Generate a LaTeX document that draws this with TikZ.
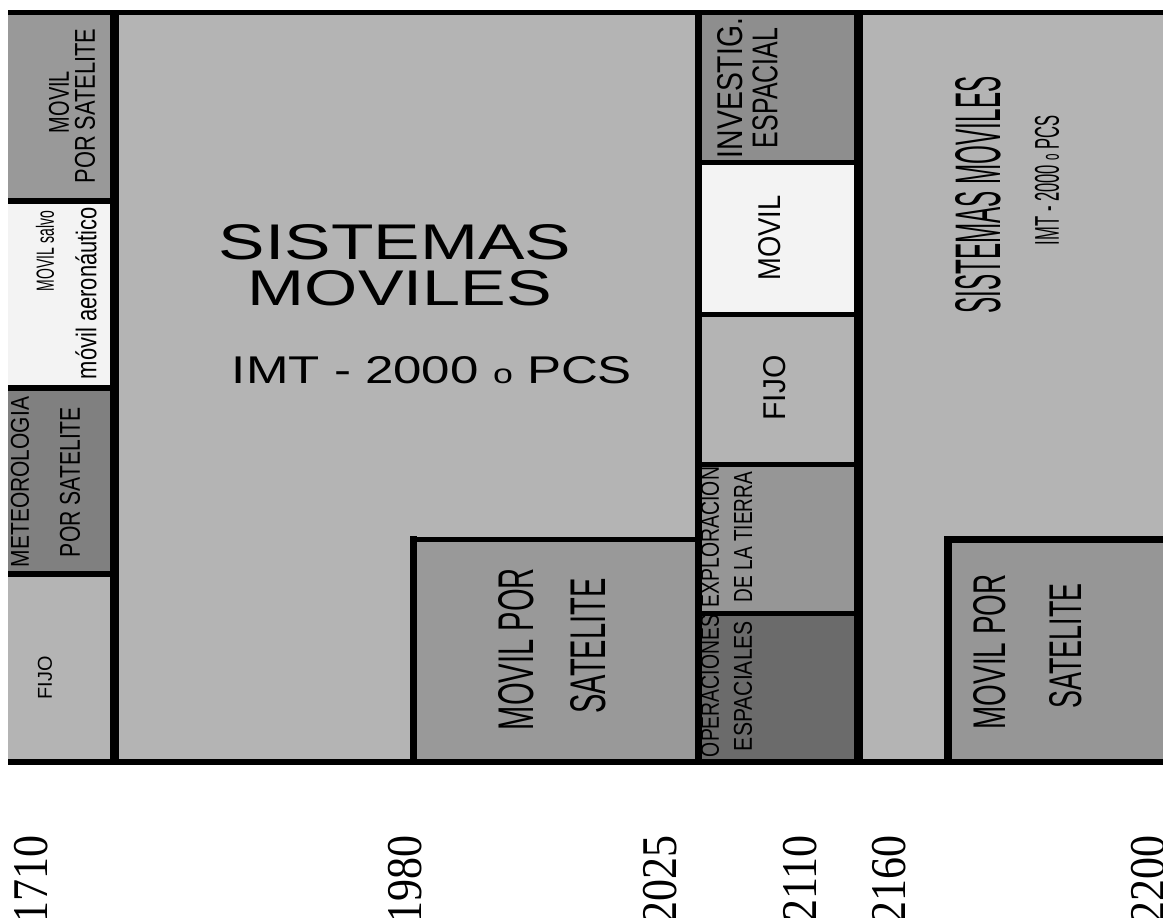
\documentclass[tikz,border=0pt]{standalone}
\usepackage{fontspec}
\setmainfont{Liberation Sans}
\newfontfamily\yearfont{Liberation Serif}
\definecolor{lg}{HTML}{B4B4B4}
\definecolor{mg}{HTML}{999999}
\definecolor{dg}{HTML}{808080}
\definecolor{wh}{HTML}{F3F3F3}
\definecolor{ig}{HTML}{8E8E8E}
\definecolor{eg}{HTML}{969696}
\definecolor{og}{HTML}{6B6B6B}
\newcommand\fitt[3]{\resizebox{#1pt}{#2pt}{#3}}
\newcommand\yeartext[1]{\scalebox{0.88}[1]{#1}}
\begin{document}
\begin{tikzpicture}[x=1pt,y=-1pt,
  vlbl/.style={inner sep=0pt, outer sep=0pt, rotate=90, anchor=center},
  hlbl/.style={inner sep=0pt, outer sep=0pt, anchor=center},
  yr/.style={inner sep=0pt, outer sep=0pt, rotate=90, anchor=east, font=\yearfont\fontsize{50}{50}\selectfont},
  thick line/.style={line width=9pt},
  mid line/.style={line width=6pt},
  thin line/.style={line width=5pt}]
\useasboundingbox (0,0) rectangle (1163,918);
\clip (0,0) rectangle (1163,918);
\fill[white] (0,0) rectangle (1163,918);
% base
\fill[lg] (8,12) rectangle (1163,762);
% column 1
\fill[mg] (8,12) rectangle (112,200);
\fill[wh] (8,200) rectangle (112,388);
\fill[dg] (8,388) rectangle (112,574);
% middle box
\fill[mg] (413,539) rectangle (698,762);
% column 3
\fill[ig] (698,12) rectangle (858,162);
\fill[wh] (698,162) rectangle (858,314);
\fill[eg] (698,464) rectangle (858,613);
\fill[og] (698,613) rectangle (858,762);
% right box
\fill[eg] (948,539) rectangle (1163,762);
% lines
\draw[mid line] (8,200.5) -- (114,200.5);
\draw[mid line] (8,388) -- (114,388);
\draw[mid line] (8,574) -- (114,574);
\draw[thin line] (698,162) -- (858,162);
\draw[thin line] (698,314) -- (858,314);
\draw[thin line] (698,464) -- (858,464);
\draw[thin line] (698,613) -- (858,613);
\draw[thin line] (410,539.5) -- (698,539.5);
\draw[line width=7pt] (413.5,536) -- (413.5,762);
\draw[line width=7pt] (944,539.5) -- (1163,539.5);
\draw[line width=8pt] (948,536) -- (948,762);
\draw[thick line] (114.5,12) -- (114.5,762);
\draw[line width=7pt] (698,12) -- (698,762);
\draw[thick line] (858,12) -- (858,762);
\draw[line width=5pt] (8,12.5) -- (1163,12.5);
\draw[line width=6pt] (8,762) -- (1163,762);
% column 1 labels
\node[vlbl] (c1a) at (59,102) {\fitt{62}{20}{MOVIL}};
\node[vlbl] (c1b) at (85,106) {\fitt{155}{20}{POR SATELITE}};
\node[vlbl] (c1c) at (45,251) {\fitt{80}{18}{MOVIL salvo}};
\node[vlbl] (c1d) at (86,293) {\fitt{172}{21}{móvil aeronáutico}};
\node[vlbl] (c1e) at (20,482) {\fitt{170}{18}{METEOROLOGIA}};
\node[vlbl] (c1f) at (70,482) {\fitt{150}{20}{POR SATELITE}};
\node[vlbl] (c1g) at (45,678) {\fitt{43}{14}{FIJO}};
% middle labels
\node[hlbl] (m1) at (395,242) {\fitt{352}{35}{SISTEMAS}};
\node[hlbl] (m2) at (400,288) {\fitt{304}{35}{MOVILES}};
\node[hlbl] (m3) at (432,370) {\fitt{400}{27}{IMT - 2000 {\fontsize{7}{7}\selectfont o} PCS}};
\node[vlbl] (m4) at (516,649) {\fitt{162}{35}{MOVIL POR}};
\node[vlbl] (m5) at (588,646) {\fitt{135}{35}{SATELITE}};
% column 3 labels
\node[vlbl] (c3a) at (730,88) {\fitt{140}{25}{INVESTIG.}};
\node[vlbl] (c3b) at (765,88) {\fitt{120}{25}{ESPACIAL}};
\node[vlbl] (c3c) at (770,238) {\fitt{85}{22}{MOVIL}};
\node[vlbl] (c3d) at (775,388) {\fitt{65}{22}{FIJO}};
\node[vlbl] (c3e) at (710,537) {\fitt{140}{18}{EXPLORACION}};
\node[vlbl] (c3f) at (743,537) {\fitt{130}{18}{DE LA TIERRA}};
\node[vlbl] (c3g) at (710,686) {\fitt{142}{18}{OPERACIONES}};
\node[vlbl] (c3h) at (743,686) {\fitt{130}{18}{ESPACIALES}};
% right labels
\node[vlbl] (r1) at (978,195) {\fitt{237}{45}{SISTEMAS MOVILES}};
\node[vlbl] (r2) at (1047,180) {\fitt{130}{24}{IMT - 2000 {\fontsize{7}{7}\selectfont o} PCS}};
\node[vlbl] (r3) at (990,652) {\fitt{155}{32}{MOVIL POR}};
\node[vlbl] (r4) at (1066,646) {\fitt{125}{32}{SATELITE}};
% years
\node[yr] (y1) at (31,835) {\yeartext{1710}};
\node[yr] (y2) at (405,835) {\yeartext{1980}};
\node[yr] (y3) at (660,835) {\yeartext{2025}};
\node[yr] (y4) at (800,835) {\yeartext{2110}};
\node[yr] (y5) at (889,835) {\yeartext{2160}};
\node[yr] (y6) at (1148,835) {\yeartext{2200}};
\end{tikzpicture}
\end{document}
